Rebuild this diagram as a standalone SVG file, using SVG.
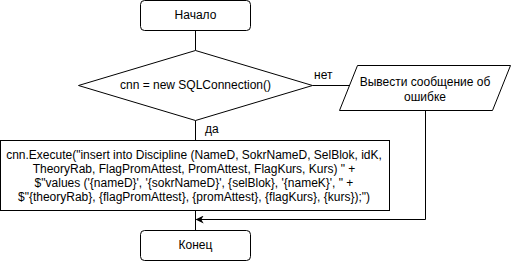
<svg xmlns="http://www.w3.org/2000/svg" width="512" height="262" viewBox="0 0 512 262">
  <style>
    .shape { fill: #ffffff; stroke: #000000; stroke-width: 1; }
    .edge { fill: none; stroke: #000000; stroke-width: 1; }
    text { font-family: "Liberation Sans", Arial, sans-serif; font-size: 12px; fill: #000000; }
    .c { text-anchor: middle; }
  </style>
  <defs>
    <marker id="arrow" viewBox="0 0 10 10" refX="9" refY="5" markerWidth="8" markerHeight="8" markerUnits="userSpaceOnUse" orient="auto">
      <path d="M0,0 L10,5 L0,10 L3,5 Z" fill="#000000"/>
    </marker>
  </defs>
  <rect width="512" height="262" fill="#ffffff"/>

  <!-- connectors -->
  <g id="connectors">
    <path class="edge" d="M195.5,30.5 V50.5"/>
    <path class="edge" d="M195.5,120.5 V140.5"/>
    <path class="edge" d="M312.5,85.5 H349.5"/>
    <path class="edge" d="M425.5,110.5 V219.5 H196.5" marker-end="url(#arrow)"/>
    <path class="edge" d="M195.5,210.5 V230.5"/>
    <text x="314" y="79">нет</text>
    <text x="205" y="133">да</text>
  </g>

  <!-- start -->
  <g id="start">
    <rect class="shape" x="140.5" y="0.5" width="110" height="30" rx="4" ry="4"/>
    <text class="c" x="195.5" y="19">Начало</text>
  </g>

  <!-- connection check -->
  <g id="decision">
    <polygon class="shape" points="195.5,50.5 312.5,85.5 195.5,120.5 78.5,85.5"/>
    <text class="c" x="195.5" y="89">cnn = new SQLConnection()</text>
  </g>

  <!-- error output -->
  <g id="error">
    <polygon class="shape" points="357.5,65.5 510.5,65.5 492.5,110.5 339.5,110.5"/>
    <text class="c" x="425" y="86">Вывести сообщение об</text>
    <text class="c" x="425" y="101">ошибке</text>
  </g>

  <!-- insert query -->
  <g id="execute">
    <rect class="shape" x="0.5" y="140.5" width="389" height="70"/>
    <text class="c" x="194" y="159">cnn.Execute("insert into Discipline (NameD, SokrNameD, SelBlok, idK,</text>
    <text class="c" x="194" y="173">TheoryRab, FlagPromAttest, PromAttest, FlagKurs, Kurs) " +</text>
    <text class="c" x="194" y="187">$"values ('{nameD}', '{sokrNameD}', {selBlok}, '{nameK}', " +</text>
    <text class="c" x="194" y="201">$"{theoryRab}, {flagPromAttest}, {promAttest}, {flagKurs}, {kurs});")</text>
  </g>

  <!-- end -->
  <g id="end">
    <rect class="shape" x="140.5" y="230.5" width="110" height="30" rx="4" ry="4"/>
    <text class="c" x="195.5" y="249">Конец</text>
  </g>
</svg>
